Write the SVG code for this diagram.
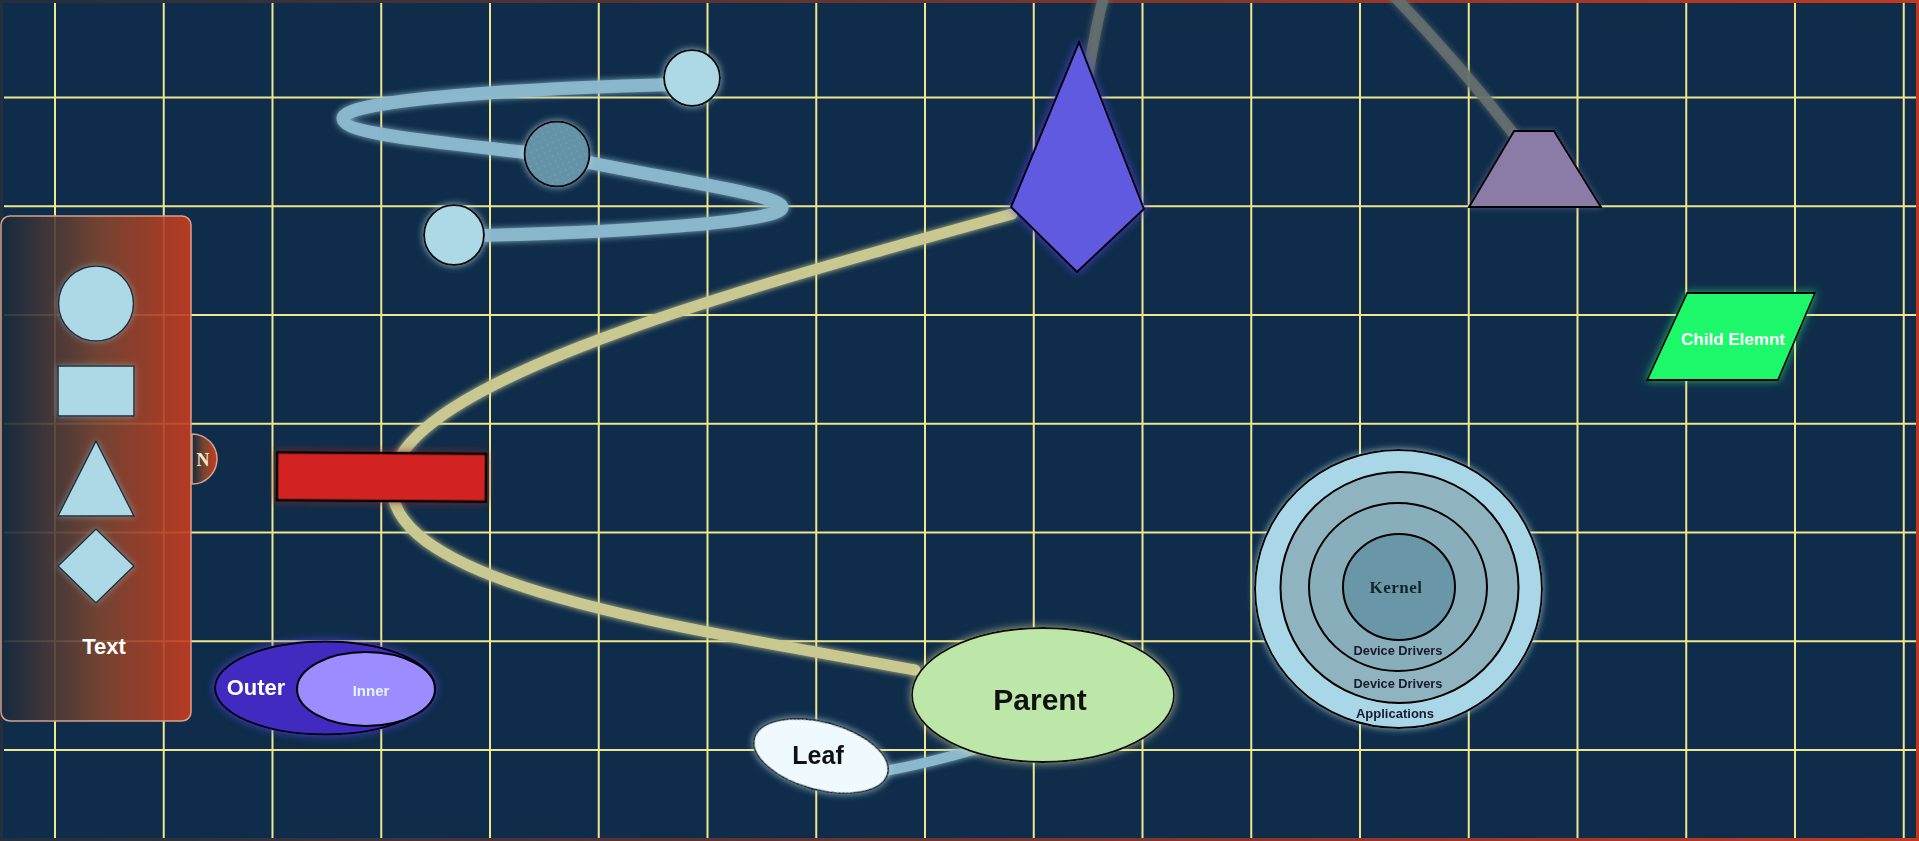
<svg xmlns="http://www.w3.org/2000/svg" width="1919" height="841" viewBox="0 0 1919 841">
<defs>
<style>
.grid line{stroke:#f0e68c;stroke-width:2}
.lg{fill:#add8e6;stroke:#1c2c3a;stroke-width:1.5}
.sans{font-family:"Liberation Sans",Arial,sans-serif;font-weight:bold}
.serif{font-family:"Liberation Serif","Times New Roman",serif;font-weight:bold}
.blk{stroke:#000;stroke-width:2}
</style>
<linearGradient id="panelGrad" x1="0" y1="0" x2="1" y2="0">
<stop offset="0" stop-color="#15293d"/>
<stop offset="0.5" stop-color="#7a4530"/>
<stop offset="1" stop-color="#c83b1e"/>
</linearGradient>
<linearGradient id="frameGrad" x1="0" y1="0" x2="1" y2="0">
<stop offset="0" stop-color="#22303c"/>
<stop offset="1" stop-color="#c0391f"/>
</linearGradient>
<pattern id="dots" width="6" height="6" patternUnits="userSpaceOnUse" patternTransform="rotate(-25)">
<rect width="6" height="6" fill="#6494a6"/>
<circle cx="3" cy="3" r="0.7" fill="#b08cff" opacity="0.7"/>
</pattern>
<filter id="gLight" x="-30%" y="-30%" width="160%" height="160%">
<feGaussianBlur in="SourceAlpha" stdDeviation="3.5" result="b"/>
<feFlood flood-color="#b8dcea" flood-opacity="0.75"/>
<feComposite in2="b" operator="in"/>
<feMerge><feMergeNode/><feMergeNode in="SourceGraphic"/></feMerge>
</filter>
<filter id="gPanel" x="-30%" y="-30%" width="160%" height="160%">
<feGaussianBlur in="SourceAlpha" stdDeviation="3" result="b"/>
<feFlood flood-color="#9ab0b8" flood-opacity="0.6"/>
<feComposite in2="b" operator="in"/>
<feMerge><feMergeNode/><feMergeNode in="SourceGraphic"/></feMerge>
</filter>
<filter id="gYellow" x="-30%" y="-30%" width="160%" height="160%">
<feGaussianBlur in="SourceAlpha" stdDeviation="4" result="b"/>
<feFlood flood-color="#e8e6a0" flood-opacity="0.7"/>
<feComposite in2="b" operator="in"/>
<feMerge><feMergeNode/><feMergeNode in="SourceGraphic"/></feMerge>
</filter>
<filter id="gBlue" x="-30%" y="-30%" width="160%" height="160%">
<feGaussianBlur in="SourceAlpha" stdDeviation="4" result="b"/>
<feFlood flood-color="#5544ee" flood-opacity="0.8"/>
<feComposite in2="b" operator="in"/>
<feMerge><feMergeNode/><feMergeNode in="SourceGraphic"/></feMerge>
</filter>
<filter id="gRed" x="-30%" y="-50%" width="160%" height="200%">
<feGaussianBlur in="SourceAlpha" stdDeviation="4" result="b"/>
<feFlood flood-color="#8a2a2a" flood-opacity="0.8"/>
<feComposite in2="b" operator="in"/>
<feMerge><feMergeNode/><feMergeNode in="SourceGraphic"/></feMerge>
</filter>
<filter id="gGreen" x="-30%" y="-30%" width="160%" height="160%">
<feGaussianBlur in="SourceAlpha" stdDeviation="4" result="b"/>
<feFlood flood-color="#3cff80" flood-opacity="0.6"/>
<feComposite in2="b" operator="in"/>
<feMerge><feMergeNode/><feMergeNode in="SourceGraphic"/></feMerge>
</filter>
<filter id="gGray" x="-30%" y="-30%" width="160%" height="160%">
<feGaussianBlur in="SourceAlpha" stdDeviation="3" result="b"/>
<feFlood flood-color="#8880a8" flood-opacity="0.5"/>
<feComposite in2="b" operator="in"/>
<feMerge><feMergeNode/><feMergeNode in="SourceGraphic"/></feMerge>
</filter>
<filter id="gLine" x="-10%" y="-10%" width="120%" height="120%">
<feGaussianBlur in="SourceGraphic" stdDeviation="3" result="b"/>
<feMerge><feMergeNode in="b"/><feMergeNode in="SourceGraphic"/></feMerge>
</filter>
</defs>

<rect x="0" y="0" width="1919" height="841" fill="#0f2d4a"/>

<g class="grid">
<line x1="55" y1="3" x2="55" y2="838"/>
<line x1="163.75" y1="3" x2="163.75" y2="838"/>
<line x1="272.5" y1="3" x2="272.5" y2="838"/>
<line x1="381.25" y1="3" x2="381.25" y2="838"/>
<line x1="490" y1="3" x2="490" y2="838"/>
<line x1="598.75" y1="3" x2="598.75" y2="838"/>
<line x1="707.5" y1="3" x2="707.5" y2="838"/>
<line x1="816.25" y1="3" x2="816.25" y2="838"/>
<line x1="925" y1="3" x2="925" y2="838"/>
<line x1="1033.75" y1="3" x2="1033.75" y2="838"/>
<line x1="1142.5" y1="3" x2="1142.5" y2="838"/>
<line x1="1251.25" y1="3" x2="1251.25" y2="838"/>
<line x1="1360" y1="3" x2="1360" y2="838"/>
<line x1="1468.75" y1="3" x2="1468.75" y2="838"/>
<line x1="1577.5" y1="3" x2="1577.5" y2="838"/>
<line x1="1686.25" y1="3" x2="1686.25" y2="838"/>
<line x1="1795" y1="3" x2="1795" y2="838"/>
<line x1="1903.75" y1="3" x2="1903.75" y2="838"/>
<line x1="4" y1="97.5" x2="1916" y2="97.5"/>
<line x1="4" y1="206.25" x2="1916" y2="206.25"/>
<line x1="4" y1="315" x2="1916" y2="315"/>
<line x1="4" y1="423.75" x2="1916" y2="423.75"/>
<line x1="4" y1="532.5" x2="1916" y2="532.5"/>
<line x1="4" y1="641.25" x2="1916" y2="641.25"/>
<line x1="4" y1="750" x2="1916" y2="750"/>
</g>

<rect x="0" y="0" width="1919" height="841" fill="none" stroke="url(#frameGrad)" stroke-width="6"/>

<g id="connectors" fill="none" stroke-linecap="round" filter="url(#gLine)">
<path d="M 692 84 C 520 88, 345 100, 343 118 C 342 135, 440 142, 557 156 C 680 182, 785 195, 782 208 C 779 222, 620 233, 454 236" stroke="#8bb8cc" stroke-width="13" opacity="0.95"/>
<path d="M 1012 214 C 700 300, 380 390, 392 490 C 400 590, 700 630, 915 670" stroke="#c8c890" stroke-width="11"/>
<path d="M 880 772 Q 930 763 980 748" stroke="#8bb8cc" stroke-width="10"/>
<path d="M 1104 -5 Q 1095 30 1088 75" stroke="#66706f" stroke-width="11" opacity="0.85"/>
<path d="M 1395 -3 Q 1460 65 1512 132" stroke="#66706f" stroke-width="11" opacity="0.85"/>
</g>

<g id="legend">
<rect x="1" y="216" width="190" height="505" rx="9" ry="9" fill="url(#panelGrad)" fill-opacity="0.9" stroke="#d9a08a" stroke-width="1.5"/>
<g filter="url(#gPanel)">
<circle class="lg" cx="96" cy="303.5" r="37.5"/>
<rect class="lg" x="58" y="366" width="76" height="50"/>
<polygon class="lg" points="96,441 134,516 58,516"/>
<polygon class="lg" points="96,529 134,566 96,603 58,566"/>
</g>
<text class="sans" x="104" y="654" font-size="22" fill="#ffffff" text-anchor="middle">Text</text>
</g>

<g id="n-tab">
<path d="M 192 434 A 25 25 0 0 1 192 484 Z" fill="url(#panelGrad)" stroke="#d9a08a" stroke-width="1.5"/>
<text class="serif" x="203" y="465.5" font-size="18" fill="#f5e8c8" text-anchor="middle">N</text>
</g>

<g id="circle-top"><circle cx="692" cy="78" r="28" fill="#add8e6" stroke="#111" stroke-width="2" filter="url(#gLight)"/></g>
<g id="circle-mid"><circle cx="557" cy="154" r="32.5" fill="url(#dots)" stroke="#111" stroke-width="2" filter="url(#gLight)"/></g>
<g id="circle-bottom"><circle cx="454" cy="235" r="30" fill="#add8e6" stroke="#111" stroke-width="2" filter="url(#gLight)"/></g>

<g id="red-rect"><rect x="277" y="453" width="209" height="48" fill="#d22222" stroke="#000" stroke-width="2.5" transform="rotate(0.4 381 477)" filter="url(#gRed)"/></g>

<g id="outer">
<ellipse cx="325" cy="688" rx="110" ry="46.5" fill="#4129c0" class="blk" filter="url(#gBlue)"/>
<text class="sans" x="256" y="695" font-size="22" fill="#ffffff" text-anchor="middle">Outer</text>
<g id="inner">
<ellipse cx="366" cy="689" rx="69" ry="37" fill="#9b8cff" class="blk"/>
<text class="sans" x="371" y="696" font-size="15" fill="#e8f4ff" text-anchor="middle">Inner</text>
</g>
</g>

<g id="kite"><polygon points="1079,42 1144,209 1077,272 1011,207" fill="#615ae0" class="blk" filter="url(#gBlue)"/></g>

<g id="trapezoid"><polygon points="1514,131 1554,131 1601,207 1469,207" fill="#8a7ba7" class="blk" filter="url(#gGray)"/></g>

<g id="child">
<polygon points="1687,293 1815,293 1778,380 1647,380" fill="#1ef86a" stroke="#000" stroke-width="1.8" filter="url(#gGreen)"/>
<text class="sans" x="1733" y="345" font-size="17" fill="#ffffff" text-anchor="middle">Child Elemnt</text>
</g>

<g id="layers">
<ellipse cx="1398.5" cy="589" rx="143.5" ry="139" fill="#a9d7e8" class="blk" filter="url(#gLight)"/>
<ellipse cx="1399.5" cy="587.5" rx="119" ry="115.5" fill="#8fb4c0" class="blk"/>
<ellipse cx="1398" cy="587" rx="89" ry="84" fill="#88aebb" class="blk"/>
<ellipse cx="1399" cy="587" rx="56" ry="53" fill="#6a97a7" class="blk"/>
<text class="serif" x="1396" y="593" font-size="17" fill="#14242e" text-anchor="middle" letter-spacing="0.5">Kernel</text>
<text class="sans" x="1398" y="655" font-size="12.8" fill="#1a1a2e" text-anchor="middle">Device Drivers</text>
<text class="sans" x="1398" y="688" font-size="12.8" fill="#1a1a2e" text-anchor="middle">Device Drivers</text>
<text class="sans" x="1395" y="718" font-size="13" fill="#1a1a2e" text-anchor="middle">Applications</text>
</g>

<g id="parent">
<ellipse cx="1043" cy="695" rx="131" ry="67" fill="#bde6a9" stroke="#111" stroke-width="1.8" filter="url(#gYellow)"/>
<text class="sans" x="1040" y="710" font-size="30" fill="#111111" text-anchor="middle">Parent</text>
</g>

<g id="leaf">
<ellipse cx="821" cy="756" rx="69" ry="34" fill="#eefaff" stroke="#222" stroke-width="1.8" transform="rotate(15 821 756)" filter="url(#gLight)"/>
<text class="sans" x="818" y="764" font-size="25" fill="#111111" text-anchor="middle">Leaf</text>
</g>
</svg>
